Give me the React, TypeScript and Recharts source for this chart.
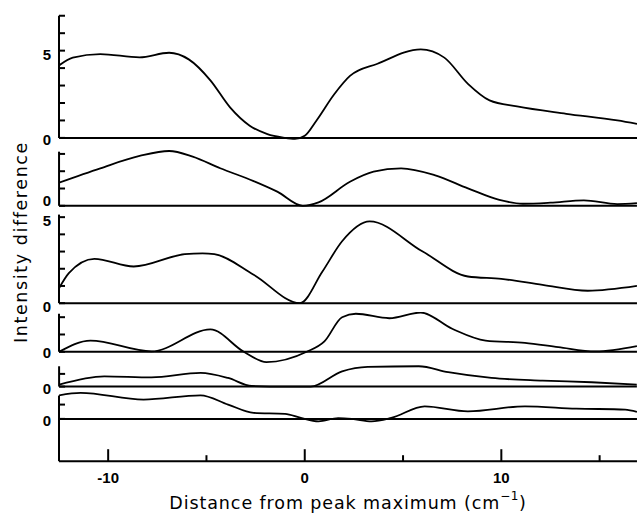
import React from "react"
import { LineChart, Line, XAxis, YAxis, ReferenceLine } from "recharts"

// distance from peak maximum (cm-1) and intensity difference, one pair per trace (top to bottom)
const dist1 = [-12.5, -11.8, -10.4, -8.4, -6.9, -5.9, -4.8, -3.8, -2.8, -1.9, -1.1, -0.5, 0, 0.6, 1.5, 2.3, 3.7, 5.9, 7.1, 8.3, 9.4, 10.8, 13.3, 15.9, 16.9]
const diff1 = [4.15, 4.6, 4.8, 4.62, 4.88, 4.5, 3.3, 1.75, 0.7, 0.22, 0.02, -0.06, 0.12, 1.0, 2.5, 3.55, 4.25, 5.07, 4.6, 3.1, 2.15, 1.8, 1.38, 1.0, 0.8]

const dist2 = [-12.5, -10.4, -8.4, -6.9, -5.7, -4.3, -2.6, -1.4, -0.1, 0.7, 2.3, 3.5, 4.9, 6.6, 8.3, 9.9, 11.1, 12.5, 14.2, 15.9, 16.9]
const diff2 = [1.34, 2.17, 2.88, 3.17, 2.84, 2.17, 1.43, 0.82, 0.0, 0.2, 1.39, 1.97, 2.17, 1.78, 1.01, 0.34, 0.12, 0.18, 0.32, 0.1, 0.15]

const dist3 = [-12.5, -12.0, -10.7, -8.7, -6.1, -5.2, -4.6, -2.6, -0.25, 0.9, 1.9, 3.3, 6.0, 8.3, 10.0, 12.1, 14.4, 16.9]
const diff3 = [0.87, 1.75, 2.58, 2.13, 2.85, 2.9, 2.85, 1.65, 0.0, 1.84, 3.6, 4.75, 3.0, 1.55, 1.41, 1.06, 0.72, 1.0]

const dist4 = [-12.5, -10.9, -7.8, -4.8, -3.1, -1.95, 0.1, 1.0, 1.9, 2.6, 4.3, 5.9, 7.5, 9.2, 11.2, 12.9, 14.8, 16.9]
const diff4 = [0.0, 0.65, 0.02, 1.29, 0.0, -0.6, 0.0, 0.6, 2.0, 2.2, 1.94, 2.27, 1.33, 0.65, 0.52, 0.27, 0.02, 0.33]

const dist5 = [-12.5, -10.2, -7.8, -5.3, -3.9, -2.7, -1.0, 0.3, 1.9, 3.2, 5.8, 7.3, 9.5, 12.1, 14.6, 16.9]
const diff5 = [0.16, 0.81, 0.73, 1.08, 0.68, 0.05, 0.0, 0.0, 1.2, 1.55, 1.6, 1.13, 0.68, 0.47, 0.34, 0.16]

const dist6 = [-12.5, -11.4, -8.2, -5.3, -3.9, -2.6, -1.0, -0.2, 0.7, 1.7, 2.4, 3.4, 4.4, 6.1, 8.3, 11.2, 13.8, 16.3, 16.9]
const diff6 = [1.65, 1.82, 1.35, 1.65, 1.0, 0.42, 0.35, 0.07, -0.17, 0.05, 0.0, -0.17, 0.07, 0.88, 0.53, 0.88, 0.72, 0.65, 0.49]

const xTicks = [-10, -5, 0, 5, 10, 15]
const xLabelled = [-10, 0, 10]

const X_DOMAIN: [number, number] = [-12.5, 16.9]
const FONT = "'Liberation Sans', Arial, sans-serif"
const TITLE_FONT = "'DejaVu Sans', sans-serif"

type Panel = {
  dist: number[]
  diff: number[]
  ticks: number[]
  labels: number[]
  lo: number
  hi: number
  axisLo: number
  axisHi: number
  zero: number // pixel row of the zero line
  unit: number // pixels per unit
  zeroShift: number // nudge of the "0" label
}

const panels: Panel[] = [
  { dist: dist1, diff: diff1, ticks: [0, 1, 2, 3, 4, 5, 6, 7], labels: [0, 5], lo: -0.4, hi: 7.1, axisLo: 0, axisHi: 7.0, zero: 137.4, unit: 17.45, zeroShift: 0 },
  { dist: dist2, diff: diff2, ticks: [0, 1, 2, 3], labels: [0], lo: -0.3, hi: 3.4, axisLo: 0, axisHi: 3.13, zero: 205.8, unit: 17.3, zeroShift: -7 },
  { dist: dist3, diff: diff3, ticks: [0, 1, 2, 3, 4, 5], labels: [0, 5], lo: -0.3, hi: 5.3, axisLo: 0, axisHi: 5.15, zero: 303.3, unit: 17.2, zeroShift: 1.5 },
  { dist: dist4, diff: diff4, ticks: [0, 1, 2], labels: [0], lo: -0.8, hi: 2.3, axisLo: 0, axisHi: 2.2, zero: 351.4, unit: 17.3, zeroShift: -1 },
  { dist: dist5, diff: diff5, ticks: [0, 1], labels: [0], lo: -0.3, hi: 1.7, axisLo: 0, axisHi: 1.6, zero: 387, unit: 12.7, zeroShift: 0 },
  { dist: dist6, diff: diff6, ticks: [0, 1], labels: [0], lo: -2.96, hi: 1.95, axisLo: -2.96, axisHi: 1.63, zero: 419.3, unit: 14.3, zeroShift: 0 },
]

function YTick(props: any) {
  const { x, y, payload, labels, zeroShift } = props
  const v = payload.value
  const dy = 7.5 + (v === 0 ? zeroShift : 1.5)
  return (
    <g>
      <line x1={x} x2={x + 6} y1={y} y2={y} stroke="#000" strokeWidth={2} />
      {labels.includes(v) && (
        <text x={x - 8} y={y + dy} textAnchor="end" fontSize={15} fontWeight="bold" fontFamily={FONT} fill="#000">
          {v}
        </text>
      )}
    </g>
  )
}

function XTick(props: any) {
  const { x, y, payload } = props
  const v = payload.value
  const major = xLabelled.includes(v)
  return (
    <g>
      <line x1={x} x2={x} y1={y} y2={y - (major ? 12 : 6)} stroke="#000" strokeWidth={2} />
      {major && (
        <text x={x} y={y + 22} textAnchor="middle" fontSize={15} fontWeight="bold" fontFamily={FONT} fill="#000">
          {v}
        </text>
      )}
    </g>
  )
}

function Trace({ p, last }: { p: Panel; last: boolean }) {
  const data = p.dist.map((d, i) => ({ d, v: p.diff[i] }))
  const plotH = (p.hi - p.lo) * p.unit
  const top = p.zero - p.hi * p.unit
  const axisH = last ? 58 : 0
  return (
    <div style={{ position: "absolute", left: 0, top }}>
      <LineChart width={637} height={plotH + axisH} data={data} margin={{ top: 0, right: 0, bottom: 0, left: 0 }}>
        <XAxis
          type="number"
          dataKey="d"
          domain={X_DOMAIN}
          allowDataOverflow
          hide={!last}
          height={axisH}
          ticks={xTicks}
          interval={0}
          axisLine={{ stroke: "#000", strokeWidth: 2 }}
          tickLine={false}
          tickSize={0}
          tickMargin={0}
          tick={<XTick />}
        />
        <YAxis
          type="number"
          domain={[p.lo, p.hi]}
          allowDataOverflow
          width={59}
          ticks={p.ticks}
          interval={0}
          axisLine={false}
          tickLine={false}
          tickSize={0}
          tickMargin={0}
          tick={<YTick labels={p.labels} zeroShift={p.zeroShift} />}
        />
        <ReferenceLine y={0} stroke="#000" strokeWidth={2} />
        <ReferenceLine
          segment={[
            { x: X_DOMAIN[0], y: p.axisLo },
            { x: X_DOMAIN[0], y: p.axisHi },
          ]}
          stroke="#000"
          strokeWidth={2}
        />
        <Line type="monotone" dataKey="v" stroke="#000" strokeWidth={1.8} dot={false} isAnimationActive={false} />
      </LineChart>
    </div>
  )
}

export default function App() {
  return (
    <div style={{ position: "absolute", left: 0, top: 0, width: 637, height: 520, overflow: "hidden", background: "#fff" }}>
      <style>{`.recharts-surface { overflow: visible; }`}</style>
      <svg width={637} height={520} style={{ position: "absolute", left: 0, top: 0 }}>
        <text
          x={21}
          y={242}
          transform="rotate(-90, 21, 242)"
          textAnchor="middle"
          dominantBaseline="central"
          fontSize={17.5}
          letterSpacing={1.6}
          fontFamily={TITLE_FONT}
          fill="#000"
        >
          Intensity difference
        </text>
        <text x={348} y={509} textAnchor="middle" fontSize={17.5} letterSpacing={0.9} fontFamily={TITLE_FONT} fill="#000">
          Distance from peak maximum (cm
          <tspan dy={-9} fontSize={12} letterSpacing={0.5}>
            −1
          </tspan>
          <tspan dy={9}>)</tspan>
        </text>
      </svg>
      {panels.map((p, i) => (
        <Trace key={i} p={p} last={i === panels.length - 1} />
      ))}
    </div>
  )
}
